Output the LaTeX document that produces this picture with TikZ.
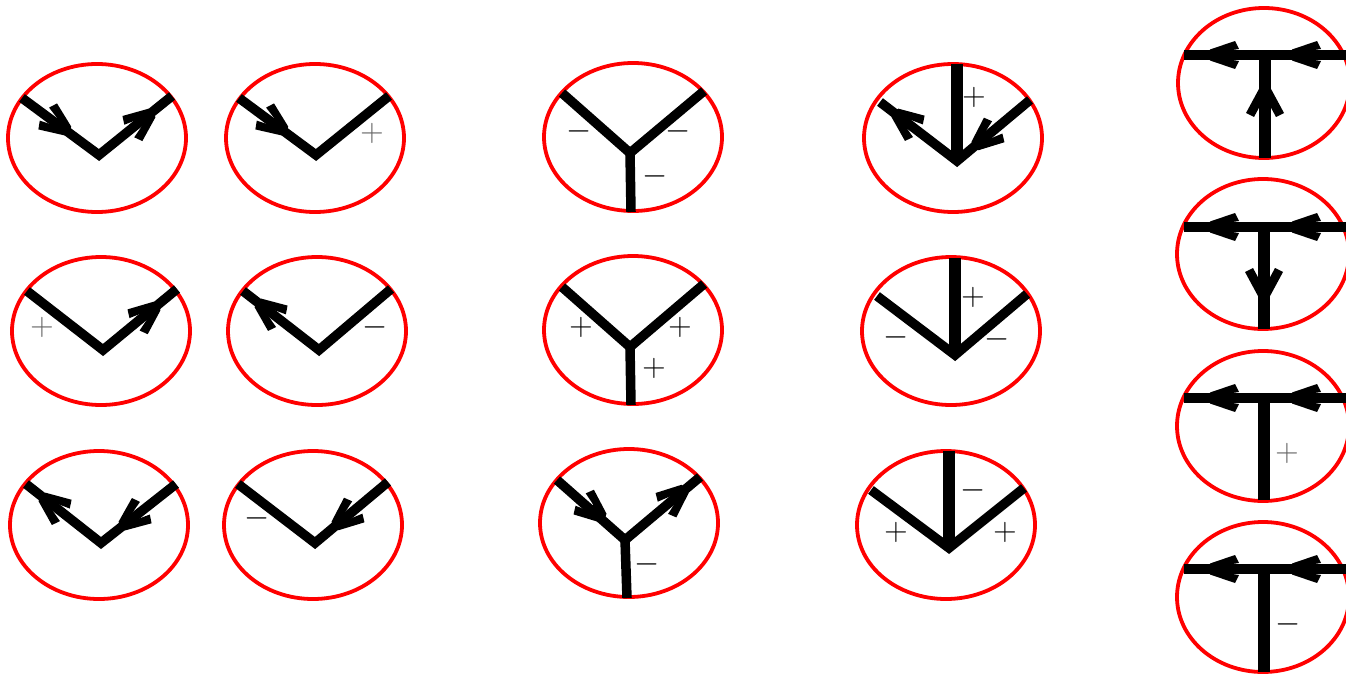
\documentclass[tikz,border=0pt]{standalone}
\usepackage{amsmath}
\tikzset{
  ring/.style={draw=red,line width=3.8pt},
  wire/.style={draw=black,line width=9.5pt,line cap=butt,line join=miter},
  stem/.style={draw=black,line width=11.5pt,line cap=butt},
  barb/.style={fill=black,draw=none},
  sign/.style={inner sep=0pt,text=black,scale=1.3,font=\fontsize{24.88}{25}\selectfont},
  lsign/.style={sign,text=black!60}
}
\newcommand{\ringat}[4]{\draw[ring] (#1,#2) ellipse [x radius=#3,y radius=#4];}
% head: optional half-spread, tip x,y, then a point behind it on the wire
\newcommand{\headat}[5][16]{%
  \pgfmathsetmacro{\hang}{atan2(-(#3-(#5)),(#2-(#4)))}%
  \pgfmathsetmacro{\hin}{#1-8}%
  \begin{scope}[shift={(#2,#3)},rotate=\hang]
    \path[barb] (2,0) -- (0,-5.5) -- (-25,-#1) -- (-29,-\hin) -- (-16,-4) -- (-16,4) -- (-29,\hin) -- (-25,#1) -- (0,5.5) -- cycle;
  \end{scope}}
\begin{document}
\begin{tikzpicture}[x=1pt,y=-1pt]
\useasboundingbox (0,0) rectangle (1346,674);
\clip (0,0) rectangle (1346,674);
\fill[white] (0,0) rectangle (1346,674);
% column 1
\ringat{97}{138}{89}{74}
\draw[wire] (22,98) -- (99,155) -- (172,96);
\headat{68}{131}{22}{98}\headat{152}{113}{99}{155}
\ringat{101}{331}{89}{74}
\draw[wire] (27,291) -- (103,350) -- (177,289);
\headat{157}{306}{103}{350}
\node[lsign] (a) at (42,327) {$+$};
\ringat{99}{525}{89}{74}
\draw[wire] (26,484) -- (101,543) -- (176,484);
\headat{42}{497}{101}{543}\headat{122}{526}{176}{484}
% column 2
\ringat{315}{138}{89}{74}
\draw[wire] (239,98) -- (316,155) -- (389,96);
\headat{285}{131}{239}{98}
\node[lsign] (b) at (372,133) {$+$};
\ringat{317}{331}{89}{74}
\draw[wire] (243,291) -- (319,350) -- (391,289);
\headat{258}{303}{319}{350}
\node[sign] (c) at (375,327) {$-$};
\ringat{313}{525}{89}{74}
\draw[wire] (238,484) -- (315,543) -- (388,482);
\headat{335}{526}{388}{482}
\node[sign] (d) at (257,518) {$-$};
% column 3
\ringat{633}{137}{89}{74}
\draw[wire] (562,93) -- (630,153) -- (704,91);
\draw[wire] (630,153) -- (631,212);
\node[sign] (e) at (579,131) {$-$};
\node[sign] (f) at (678,131) {$-$};
\node[sign] (g) at (655,176) {$-$};
\ringat{633}{330}{89}{74}
\draw[wire] (562,287) -- (630,347) -- (704,284);
\draw[wire] (630,347) -- (631,405);
\node[sign] (h) at (581,327) {$+$};
\node[sign] (i) at (680,327) {$+$};
\node[sign] (j) at (654,368) {$+$};
\ringat{629}{523}{89}{74}
\draw[wire] (557,480) -- (625,540) -- (700,477);
\draw[wire] (625,540) -- (627,598);
\headat{603}{518}{557}{480}\headat{685}{489}{625}{540}
\node[sign] (k) at (647,564) {$-$};
% column 4
\ringat{953}{138}{89}{74}
\draw[wire] (880,102) -- (957,161) -- (1030,100);
\draw[stem] (957,64) -- (957,161);
\headat{895}{113}{957}{161}\headat{975}{146}{1030}{100}
\node[sign] (l) at (974,97) {$+$};
\ringat{951}{331}{89}{74}
\draw[wire] (877,296) -- (955,355) -- (1027,294);
\draw[stem] (955,258) -- (955,355);
\node[sign] (m) at (973,297) {$+$};
\node[sign] (n) at (896,337) {$-$};
\node[sign] (o) at (997,339) {$-$};
\ringat{946}{525}{89}{74}
\draw[wire] (871,490) -- (949,548) -- (1024,488);
\draw[stem] (949,451) -- (949,548);
\node[sign] (p) at (973,490) {$-$};
\node[sign] (q) at (896,532) {$+$};
\node[sign] (r) at (1005,532) {$+$};
% column 5
\ringat{1264}{83}{86}{75}
\draw[wire] (1184,55) -- (1346,55);
\draw[stem] (1265,55) -- (1265,158);
\headat[14]{1210}{55}{1346}{55}\headat[14]{1292}{55}{1346}{55}\headat[19]{1265}{88}{1265}{158}
\ringat{1263}{254}{86}{75}
\draw[wire] (1184,227) -- (1346,227);
\draw[stem] (1264,227) -- (1264,329);
\headat[14]{1210}{227}{1346}{227}\headat[14]{1292}{227}{1346}{227}\headat[19]{1264}{297}{1264}{227}
\ringat{1263}{426}{86}{75}
\draw[wire] (1184,398) -- (1346,398);
\draw[stem] (1264,398) -- (1264,500);
\headat[14]{1210}{398}{1346}{398}\headat[14]{1292}{398}{1346}{398}
\node[lsign] (s) at (1287,453) {$+$};
\ringat{1263}{597}{86}{75}
\draw[wire] (1184,569) -- (1346,569);
\draw[stem] (1264,569) -- (1264,672);
\headat[14]{1210}{569}{1346}{569}\headat[14]{1292}{569}{1346}{569}
\node[sign] (t) at (1288,624) {$-$};
\end{tikzpicture}
\end{document}
